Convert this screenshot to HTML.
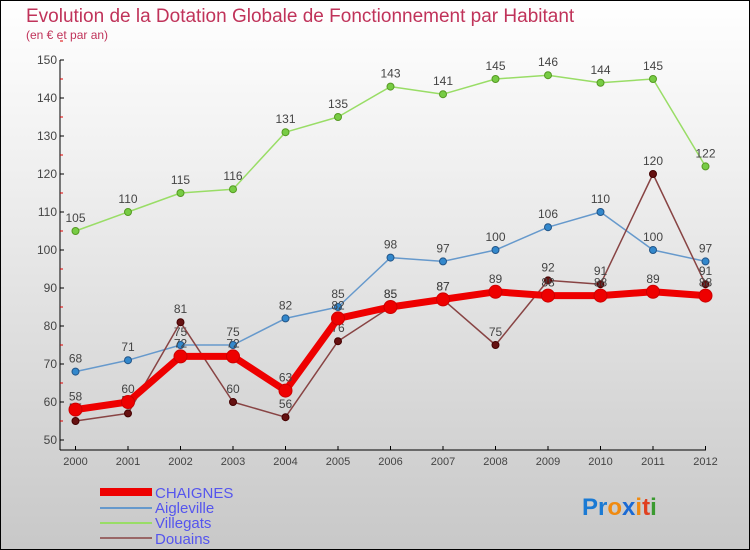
<!DOCTYPE html>
<html><head><meta charset="utf-8"><style>
body{margin:0}
#c{position:relative;width:748px;height:548px;border:1px solid #000;background:linear-gradient(#fff 0%,#f0f0f0 30%,#c8c8c8 100%);font-family:"Liberation Sans",sans-serif;overflow:hidden}
text{font-family:"Liberation Sans",sans-serif}
</style></head><body>
<div id="c">
<svg id="s" width="750" height="550" style="position:absolute;left:-1px;top:-1px">
<text x="26" y="22" font-size="19" fill="#c0335a">Evolution de la Dotation Globale de Fonctionnement par Habitant</text>
<text x="26" y="39" font-size="12" fill="#c0335a">(en € et par an)</text>
<g id="axes"></g><g id="series"></g>
<g>
<rect x="100" y="488" width="52" height="8" fill="#e00"/>
<text x="155" y="498" font-size="15" fill="#5555ee">CHAIGNES</text>
<line x1="100" y1="508" x2="152" y2="508" stroke="#6699cc" stroke-width="2"/>
<text x="155" y="513" font-size="15" fill="#5555ee">Aigleville</text>
<line x1="100" y1="523" x2="152" y2="523" stroke="#99dd66" stroke-width="2"/>
<text x="155" y="528" font-size="15" fill="#5555ee">Villegats</text>
<line x1="100" y1="538" x2="152" y2="538" stroke="#996666" stroke-width="2"/>
<text x="155" y="544" font-size="15" fill="#5555ee">Douains</text>
</g>
<text x="582" y="515" font-size="24" font-weight="bold"><tspan fill="#1a7ad4">Pr</tspan><tspan fill="#f08a10">o</tspan><tspan fill="#1a6ad4">x</tspan><tspan fill="#f08a10">i</tspan><tspan fill="#e04020">t</tspan><tspan fill="#3a9a30">i</tspan></text>
</svg>
</div>
<script>
const years=[2000,2001,2002,2003,2004,2005,2006,2007,2008,2009,2010,2011,2012];
const chaignes=[58,60,72,72,63,82,85,87,89,88,88,89,88];
const aigleville=[68,71,75,75,82,85,98,97,100,106,110,100,97];
const villegats=[105,110,115,116,131,135,143,141,145,146,144,145,122];
const douains=[55,57,81,60,56,76,85,87,75,92,91,120,91];
const yTicks=[50,60,70,80,90,100,110,120,130,140,150];
const NS="http://www.w3.org/2000/svg";
const xs=i=>75.5+i*52.5;
const ys=v=>440-(v-50)*3.8;
function mk(p,t,a){const e=document.createElementNS(NS,t);for(const k in a)e.setAttribute(k,a[k]);p.appendChild(e);return e;}
const ax=document.getElementById('axes');
let l=mk(ax,'line',{x1:60,y1:60,x2:60,y2:450,stroke:'#000'});


l=mk(ax,'line',{x1:60,y1:450,x2:706,y2:450,stroke:'#000'});


yTicks.forEach(v=>{
 mk(ax,'line',{x1:60,y1:ys(v),x2:64,y2:ys(v),stroke:'#000'});
 mk(ax,'line',{x1:60,y1:ys(v+5),x2:63,y2:ys(v+5),stroke:'#d00'});
 const t=mk(ax,'text',{x:57,y:ys(v)+4,'font-size':12,fill:'#444','text-anchor':'end'});t.textContent=v;
 
 
});
years.forEach((y,i)=>{
 mk(ax,'line',{x1:xs(i),y1:446,x2:xs(i),y2:450,stroke:'#000'});
 const t=mk(ax,'text',{x:xs(i),y:465,'font-size':11,fill:'#444','text-anchor':'middle'});t.textContent=y;
 
 
});
const sg=document.getElementById('series');
function series(name,data,color,w,r,dot,dstroke){
 const g=mk(sg,'g',{});
 
 
 mk(g,'polyline',{points:data.map((v,i)=>xs(i)+','+ys(v)).join(' '),fill:'none',stroke:color,'stroke-width':w,'stroke-linejoin':'round'});
 data.forEach((v,i)=>{
  const c=mk(g,'circle',{cx:xs(i),cy:ys(v),r:r,fill:dot,stroke:dstroke,'stroke-width':1});
  
  
  const t=mk(g,'text',{x:xs(i),y:ys(v)-9,'font-size':12,fill:'#444','text-anchor':'middle'});t.textContent=v;
  
  
 });
}
series('villegats',villegats,'#99dd66',1.5,3.5,'#77cc44','#559922');
series('aigleville',aigleville,'#6699cc',1.5,3.5,'#3388cc','#225588');
series('douains',douains,'#884444',1.5,3.5,'#661111','#440000');
series('chaignes',chaignes,'#ee0000',7,6.5,'#ee0000','#cc0000');
</script>
</body></html>
